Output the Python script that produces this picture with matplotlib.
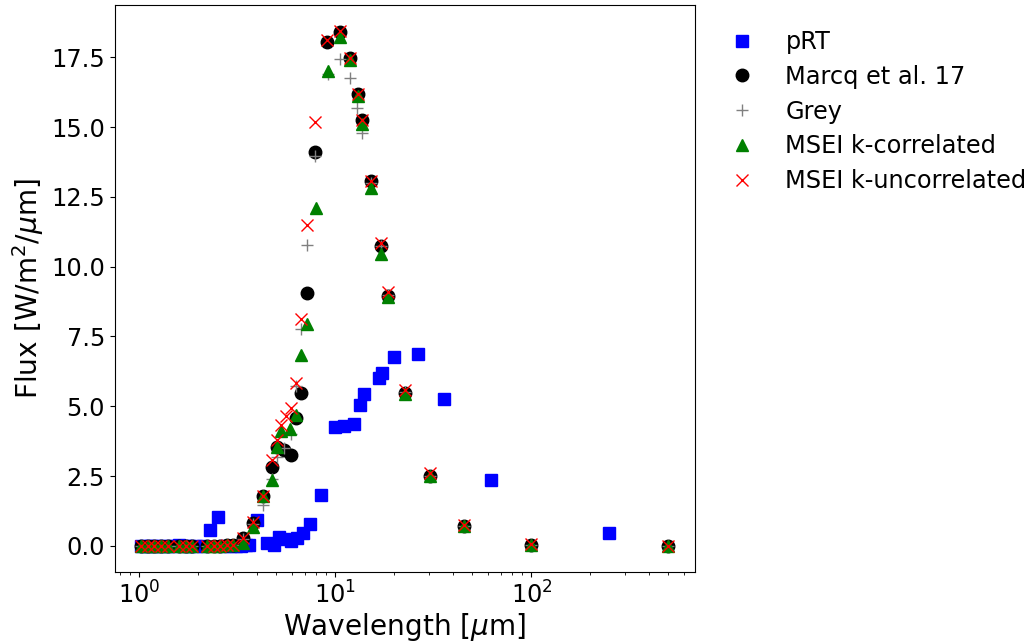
import matplotlib
matplotlib.use("Agg")
import matplotlib.pyplot as plt

# flat part of the band grid (fluxes ~0 there)
flat_wl = [1.02, 1.11, 1.19, 1.29, 1.40, 1.60, 1.73, 1.85, 2.21, 2.40, 2.59, 2.80, 2.99]
flat_f = [0, 0, 0, 0, 0, 0, 0, 0, 0, 0, 0, 0.02, 0.05]

prt_wl = [1.02, 1.08, 1.15, 1.22, 1.3, 1.4, 1.5, 1.6, 1.7, 1.8, 1.95, 2.1, 2.28, 2.51,
          2.7, 2.9, 3.1, 3.3, 3.5, 3.64, 4.0, 4.5, 4.87, 5.17, 5.47, 5.92, 6.4, 6.87,
          7.42, 8.4, 9.9, 11.0, 12.5, 13.3, 13.95, 16.7, 17.2, 20.0, 26.4, 35.6, 62.4, 250]
prt_f = [0, 0, 0, 0, 0, 0, 0, 0.05, 0, 0, 0, 0, 0.57, 1.03,
         0, 0, 0, 0, 0.05, 0.04, 0.93, 0.12, 0.04, 0.33, 0.24, 0.19, 0.28, 0.48,
         0.79, 1.83, 4.25, 4.3, 4.36, 5.06, 5.45, 6.01, 6.21, 6.77, 6.87, 5.27, 2.35, 0.48]

marcq_wl = flat_wl + [3.36, 3.78, 4.25, 4.72, 5.03, 5.45, 5.91, 6.27, 6.64, 7.19, 7.87, 9.1,
                      10.55, 11.8, 13.0, 13.7, 15.2, 17.0, 18.5, 22.7, 30.5, 45.5, 100, 500]
marcq_f = flat_f + [0.29, 0.82, 1.77, 2.82, 3.56, 3.42, 3.26, 4.58, 5.48, 9.06, 14.1, 18.03,
                    18.42, 17.46, 16.17, 15.24, 13.06, 10.75, 8.95, 5.48, 2.52, 0.72, 0.05, 0.0]

grey_wl = flat_wl + [3.36, 3.78, 4.25, 4.72, 5.03, 5.45, 5.91, 6.27, 6.64, 7.19, 7.87, 9.13,
                     10.55, 11.8, 12.9, 13.6, 15.2, 17.0, 18.5, 22.7, 30.5, 45.5, 100, 500]
grey_f = flat_f + [0.25, 0.78, 1.45, 2.4, 3.2, 3.5, 4.0, 5.72, 7.77, 10.77, 13.96, 16.9,
                   17.43, 16.75, 15.67, 14.8, 13.0, 10.75, 9.0, 5.5, 2.5, 0.7, 0.05, 0.0]

corr_wl = flat_wl + [3.36, 3.78, 4.25, 4.72, 5.03, 5.3, 5.85, 6.27, 6.64, 7.19, 7.94, 9.13,
                     10.55, 11.8, 13.0, 13.7, 15.2, 17.0, 18.5, 22.7, 30.5, 45.5, 100, 500]
corr_f = flat_f + [0.1, 0.66, 1.8, 2.37, 3.55, 4.1, 4.2, 4.7, 6.82, 7.93, 12.1, 17.0,
                   18.24, 17.4, 16.1, 15.12, 12.83, 10.44, 8.9, 5.45, 2.5, 0.72, 0.05, 0.0]

uncorr_wl = flat_wl + [3.36, 3.78, 4.25, 4.72, 5.03, 5.27, 5.58, 5.91, 6.27, 6.64, 7.19, 7.87,
                       9.1, 10.55, 11.8, 13.0, 13.7, 15.2, 17.0, 18.5, 22.7, 30.5, 45.5, 100, 500]
uncorr_f = flat_f + [0.30, 0.85, 1.80, 3.06, 3.80, 4.34, 4.66, 4.95, 5.85, 8.13, 11.49, 15.19,
                     18.1, 18.45, 17.49, 16.17, 15.24, 13.06, 10.85, 9.1, 5.6, 2.6, 0.75, 0.07, 0.01]

plt.rcParams['font.size'] = 17.3

fig = plt.figure(figsize=(10.31, 6.44), dpi=100)
ax = fig.add_axes([0.1113, 0.1123, 0.5626, 0.880])

ms = 9
ax.plot(prt_wl, prt_f, 's', color='blue', ms=ms, label='pRT')
ax.plot(marcq_wl, marcq_f, 'o', color='black', ms=ms, label='Marcq et al. 17')
ax.plot(grey_wl, grey_f, '+', color='grey', ms=ms, label='Grey')
ax.plot(corr_wl, corr_f, '^', color='green', ms=ms, label='MSEI k-correlated')
ax.plot(uncorr_wl, uncorr_f, 'x', color='red', ms=ms, label='MSEI k-uncorrelated')

ax.set_xscale('log')
ax.set_xlabel(r'Wavelength [$\mu$m]', fontsize=20.2, labelpad=2)
ax.set_ylabel(r'Flux [W/m$^2$/$\mu$m]', fontsize=20.2)
ax.legend(loc='upper left', bbox_to_anchor=(1.003, 0.994), frameon=False,
          labelspacing=0.45)

fig.savefig('out.png', dpi=100)
